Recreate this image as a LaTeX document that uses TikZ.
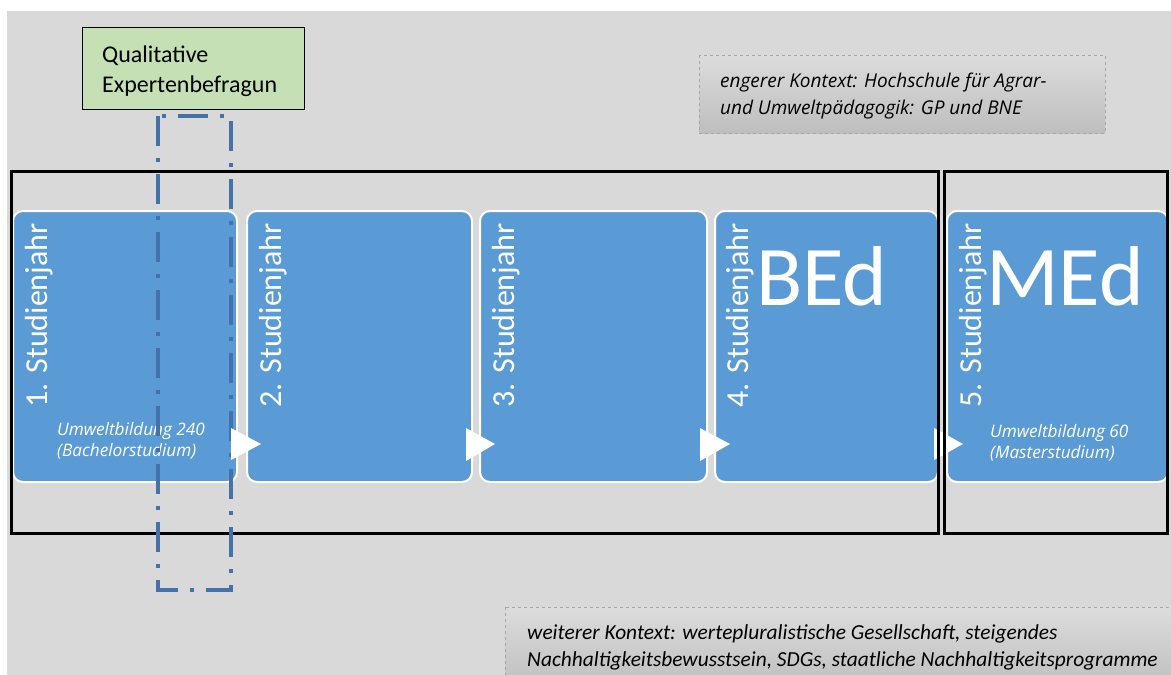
\documentclass[tikz,border=0pt]{standalone}
\usepackage{fontspec}
\setmainfont{Carlito}
\newfontfamily\osans{Open Sans}
\definecolor{bgray}{RGB}{217,217,217}
\definecolor{sblue}{RGB}{91,155,213}
\definecolor{dblue}{RGB}{68,114,168}
\definecolor{lgreen}{RGB}{197,224,180}
\definecolor{dgrayline}{RGB}{166,166,166}
\definecolor{shtop}{RGB}{220,220,220}
\definecolor{shbot}{RGB}{190,190,190}
\tikzset{
  yearbox/.style={draw=white, line width=2pt, fill=sblue, rounded corners=10pt},
  yeartext/.style={rotate=90, anchor=base east, inner sep=0pt, text=white, font=\fontsize{32}{38}\selectfont},
  degree/.style={anchor=base west, inner sep=0pt, text=white, font=\fontsize{85}{90}\selectfont},
  subtext/.style={anchor=base west, inner sep=0pt, text=white, align=left, font=\osans\itshape\fontsize{17.2}{21}\selectfont},
  ctxbox/.style={draw=dgrayline, dashed, line width=0.6pt, top color=shtop, bottom color=shbot},
  frame/.style={draw=black, line width=3pt},
  arrowtri/.style={fill=white, draw=none},
}
\begin{document}
\begin{tikzpicture}[x=1pt, y=-1pt]
\useasboundingbox (0,0) rectangle (1171,675);
\fill[bgray] (7,11) rectangle (1171,675);
% green box
\node[draw=black, line width=0.6pt, fill=lgreen, minimum width=222pt, minimum height=82pt, anchor=north west, inner sep=0pt] (green) at (82,27) {};
\node[anchor=base west, inner sep=0pt, align=left, font=\fontsize{24}{30}\selectfont] (greentext) at (102,92) {Qualitative\\Expertenbefragun};
% context boxes
\path[ctxbox] (699,55) rectangle (1105,133);
\node[anchor=base west, inner sep=0pt, align=left, font=\osans\itshape\fontsize{19}{27}\selectfont] (ctx1) at (720,114) {engerer Kontext: Hochschule für Agrar-\\und Umweltpädagogik: GP und BNE};
\path[ctxbox] (505,607) rectangle (1180,690);
\node[anchor=base west, inner sep=0pt, align=left, font=\itshape\fontsize{21.4}{27}\selectfont] (ctx2) at (527,666) {weiterer Kontext: wertepluralistische Gesellschaft, steigendes\\Nachhaltigkeitsbewusstsein, SDGs, staatliche Nachhaltigkeitsprogramme};
% year boxes
\path[yearbox] (13,211) rectangle (237,482);
\path[yearbox] (247,211) rectangle (472,482);
\path[yearbox] (480,211) rectangle (707,482);
\path[yearbox] (715,211) rectangle (938,482);
\path[yearbox] (947,211) rectangle (1168,482);
\node[yeartext] (y1) at (47,223) {1. Studienjahr};
\node[yeartext] (y2) at (281,223) {2. Studienjahr};
\node[yeartext] (y3) at (514,223) {3. Studienjahr};
\node[yeartext] (y4) at (748,223) {4. Studienjahr};
\node[yeartext] (y5) at (981,223) {5. Studienjahr};
\node[degree] (bed) at (756,305) {BEd};
\node[degree] (med) at (986,305) {MEd};
\node[subtext] (s1) at (57,456) {Umweltbildung 240\\(Bachelorstudium)};
\node[subtext] (s5) at (990,458) {Umweltbildung 60\\(Masterstudium)};
% arrow between 4 and 5 (under frames)
\fill[arrowtri] (934,428) -- (963,444) -- (934,460) -- cycle;
% frames
\draw[frame] (11,171) rectangle (938,533);
\draw[frame] (944,171) rectangle (1167,533);
% dash-dot rectangle
\draw[dblue, line width=3.5pt, dash pattern=on 30pt off 12pt on 4pt off 12pt] (158,116) rectangle (231,590);
% arrows
\fill[arrowtri] (231,428) -- (261,444) -- (231,460) -- cycle;
\fill[arrowtri] (466,428) -- (495,444) -- (466,461) -- cycle;
\fill[arrowtri] (700,428) -- (730,444) -- (700,461) -- cycle;
\end{tikzpicture}
\end{document}
